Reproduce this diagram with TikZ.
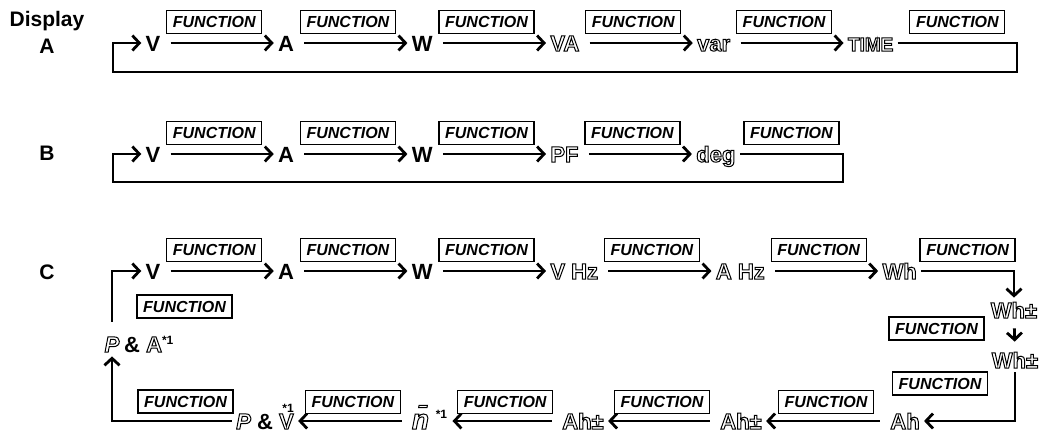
\documentclass[tikz,border=0pt]{standalone}
\usepackage{fontspec}
\setmainfont{Liberation Sans}
\usetikzlibrary{arrows.meta,positioning}

% hollow (outlined) letters of the display
\newcommand{\outl}[1]{\special{pdf:literal direct 1 Tr 0.5 w}#1\special{pdf:literal direct 0 Tr}}
\newcommand{\starone}{\textsuperscript{\fontsize{6}{6}\selectfont *1}}

\begin{document}
\begin{tikzpicture}[x=0.5pt, y=-0.5pt,
            node distance=54.5pt,
            val/.style={font=\fontsize{11}{12}\selectfont\bfseries, inner sep=2pt, text height=8pt, text depth=0pt},
            lbl/.style={font=\fontsize{10.5}{12}\selectfont\bfseries, inner sep=0pt},
            fn/.style={rectangle, draw, line width=0.6pt, font=\fontsize{8}{9}\selectfont\bfseries\itshape, minimum width=47.5pt, minimum height=11.5pt, inner sep=0pt, fill=white},
            fnup/.style={fn, above=4.5pt, xshift=-2.5pt},
            fnlow/.style={fn, above=3.5pt},
            arr/.style={-{Straight Barb[length=3.5pt,width=7.5pt]}, line width=1.4pt},
            flow/.style={arr, shorten <=3pt}
        ]
            \useasboundingbox (0,0) rectangle (1049,435);

            % --- DISPLAY A ---
            \node[lbl] (disp) at (47,21) {Display};
            \node[lbl] (rowA) at (47,46) {A};
            \node[val] (vA) at (153,43) {V};
            \node[val, right=of vA] (aA) {A};
            \node[val, right=of aA] (wA) {W};
            \node[val, right=of wA] (vaA) {\outl{VA}};
            \node[val, right=of vaA] (varA) {\outl{var}};
            \node[val, right=of varA, font=\fontsize{9.5}{11}\selectfont\bfseries] (timeA) {\outl{TIME}};

            \draw[flow] (vA) -- node[fnup] (fA1) {FUNCTION} (aA);
            \draw[flow] (aA) -- node[fnup] (fA2) {FUNCTION} (wA);
            \draw[flow] (wA) -- node[fnup] (fA3) {FUNCTION} (vaA);
            \draw[flow] (vaA) -- node[fnup] (fA4) {FUNCTION} (varA);
            \draw[flow] (varA) -- node[fnup] (fA5) {FUNCTION} (timeA);

            % back to V
            \coordinate (rA) at (1017,72);
            \coordinate (lA) at (113,72);
            \draw[arr] (timeA) -| node[fn, pos=0.25, above=4.5pt] (fA6) {FUNCTION} (rA) -- (lA) |- (vA);

            % --- DISPLAY B ---
            \node[lbl] (rowB) at (47,153) {B};
            \node[val] (vB) at (153,154) {V};
            \node[val, right=of vB] (aB) {A};
            \node[val, right=of aB] (wB) {W};
            \node[val, right=of wB] (pfB) {\outl{PF}};
            \node[val, right=of pfB] (degB) {\outl{deg}};

            \draw[flow] (vB) -- node[fnup] (fB1) {FUNCTION} (aB);
            \draw[flow] (aB) -- node[fnup] (fB2) {FUNCTION} (wB);
            \draw[flow] (wB) -- node[fnup] (fB3) {FUNCTION} (pfB);
            \draw[flow] (pfB) -- node[fnup] (fB4) {FUNCTION} (degB);

            \coordinate (rB) at (843,182);
            \coordinate (lB) at (113,182);
            \draw[arr] (degB) -| node[fn, pos=0.25, above=4.5pt] (fB5) {FUNCTION} (rB) -- (lB) |- (vB);

            % --- DISPLAY C ---
            \node[lbl] (rowC) at (47,272) {C};
            \node[val] (vC) at (153,271) {V};
            \node[val, right=of vC] (aC) {A};
            \node[val, right=of aC] (wC) {W};
            \node[val, right=of wC] (vhzC) {\outl{V Hz}};
            \node[val, right=of vhzC] (ahzC) {\outl{A Hz}};
            \node[val, right=of ahzC] (whC) {\outl{Wh}};

            \draw[flow] (vC) -- node[fnup] (fC1) {FUNCTION} (aC);
            \draw[flow] (aC) -- node[fnup] (fC2) {FUNCTION} (wC);
            \draw[flow] (wC) -- node[fnup] (fC3) {FUNCTION} (vhzC);
            \draw[flow] (vhzC) -- node[fnup] (fC4) {FUNCTION} (ahzC);
            \draw[flow] (ahzC) -- node[fnup] (fC5) {FUNCTION} (whC);

            % right column
            \node[val] (whpmA) at (1014,310) {\outl{Wh±}};
            \node[val] (whpmB) at (1015,360) {\outl{Wh±}};
            \node[val] (ahC) at (905,421) {\outl{Ah}};
            \draw[arr] (whC) -| node[fn, pos=0.25, above=4.5pt] (fC6) {FUNCTION} (whpmA);
            \draw[arr, shorten <=3pt, shorten >=3pt] (whpmA) -- (whpmB);
            \node[fn] (fC7) at (936.5,328.5) {FUNCTION};
            \draw[arr] (whpmB) |- (ahC);
            \node[fn] (fC8) at (940,383.5) {FUNCTION};

            % bottom row, right to left
            \node[val] (ahpmA) at (741,421) {\outl{Ah±}};
            \node[val] (ahpmB) at (583,421) {\outl{Ah±}};
            \node[val, font=\fontsize{14}{14}\selectfont\bfseries] (nC) at (430,421) {\outl{\textit{\=n}}\starone};
            \node[val] (pvC) at (265,421) {\outl{\textit{P}} \& \outl{V}\llap{\raisebox{8.5pt}{\fontsize{6}{6}\selectfont *1}}};

            \draw[flow] (ahC) -- node[fnlow] (fC9) {FUNCTION} (ahpmA);
            \draw[flow] (ahpmA) -- node[fnlow] (fC10) {FUNCTION} (ahpmB);
            \draw[flow] (ahpmB) -- node[fnlow] (fC11) {FUNCTION} (nC);
            \draw[flow] (nC) -- node[fnlow] (fC12) {FUNCTION} (pvC);

            % left column
            \node[val] (pC) at (112,344) {\outl{\textit{P}}};
            \node[val, right=-2pt of pC] (ampC) {\& \outl{A}\starone};
            \draw[arr] (pvC) -| (pC);
            \node[fn] (fC13) at (185.5,401.5) {FUNCTION};
            \draw[arr, shorten <=5pt] (pC) |- (vC);
            \node[fn] (fC14) at (184.5,306.5) {FUNCTION};

        \end{tikzpicture}
\end{document}
